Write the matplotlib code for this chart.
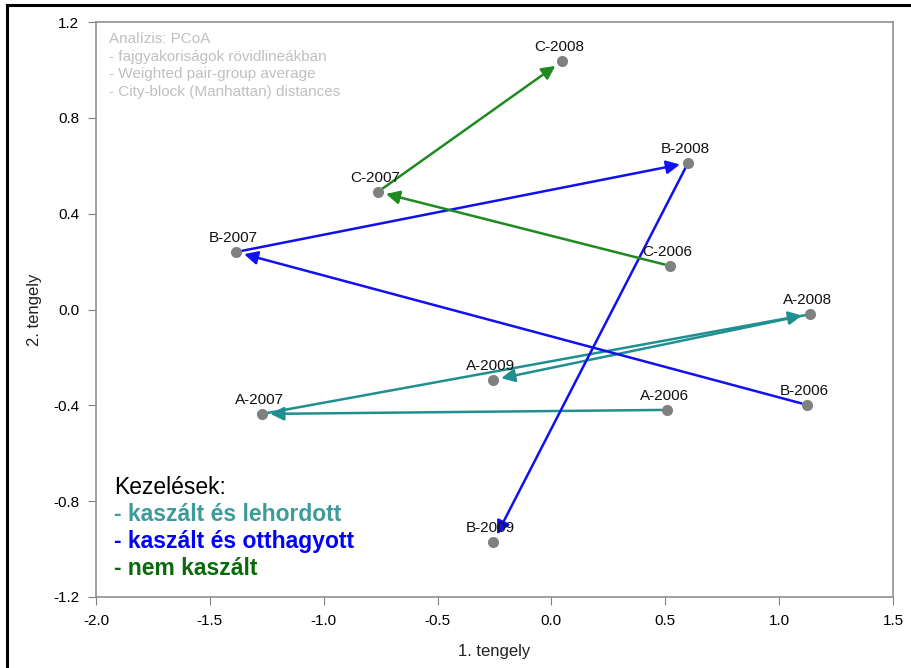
import matplotlib.pyplot as plt
from matplotlib.lines import Line2D

plt.rcParams['font.family'] = ['Liberation Sans', 'DejaVu Sans']

# PCoA koordináták (leolvasva)
labels = ['A-2006', 'A-2007', 'A-2008', 'A-2009',
          'B-2006', 'B-2007', 'B-2008', 'B-2009',
          'C-2006', 'C-2007', 'C-2008']
ax1 = [0.508, -1.271, 1.136, -0.256,
       1.122, -1.385, 0.600, -0.256,
       0.521, -0.762, 0.047]
ax2 = [-0.419, -0.436, -0.019, -0.294,
       -0.398, 0.240, 0.612, -0.970,
       0.182, 0.491, 1.037]

# kezelések útvonalai (időrendben)
paths = {
    'A': ['A-2006', 'A-2007', 'A-2008', 'A-2009'],
    'B': ['B-2006', 'B-2007', 'B-2008', 'B-2009'],
    'C': ['C-2006', 'C-2007', 'C-2008'],
}
line_colors = {'A': '#1f8f8f', 'B': '#1010f0', 'C': '#1f8a1f'}

legend_items = ['- kaszált és lehordott', '- kaszált és otthagyott', '- nem kaszált']
legend_colors = ['#3f9a9a', '#0000ff', '#0a6a0a']

info_lines = ['Analízis: PCoA', '- fajgyakoriságok rövidlineákban',
              '- Weighted pair-group average', '- City-block (Manhattan) distances']

pos = {lab: (x, y) for lab, x, y in zip(labels, ax1, ax2)}

fig = plt.figure(figsize=(9.11, 6.68), dpi=100)
ax = fig.add_axes([96 / 911, 1 - 597 / 668, (893 - 96) / 911, (597 - 22) / 668])

for key, seq in paths.items():
    for a, b in zip(seq[:-1], seq[1:]):
        ax.annotate('', xy=pos[b], xytext=pos[a],
                    arrowprops=dict(arrowstyle='-|>', color=line_colors[key], lw=1.8,
                                    mutation_scale=20, shrinkA=4, shrinkB=6),
                    zorder=2)

ax.plot(ax1, ax2, 'o', color='#808080', markersize=8, zorder=3, markeredgewidth=0)
for lab, x, y in zip(labels, ax1, ax2):
    ax.annotate(lab, (x, y), xytext=(-2, 5), textcoords='offset points',
                ha='center', va='bottom', fontsize=11, color='#111111', zorder=4)

ax.set_xlim(-2.0, 1.5)
ax.set_ylim(-1.2, 1.2)
ax.set_xticks([-2.0, -1.5, -1.0, -0.5, 0.0, 0.5, 1.0, 1.5])
ax.set_yticks([-1.2, -0.8, -0.4, 0.0, 0.4, 0.8, 1.2])
ax.set_xticklabels(['%.1f' % v for v in ax.get_xticks()])
ax.set_yticklabels(['%.1f' % v for v in ax.get_yticks()])
ax.tick_params(direction='out', length=6, color='#808080', labelsize=11, pad=6)
for s in ax.spines.values():
    s.set_color('#909090')
    s.set_linewidth(1.2)
ax.set_xlabel('1. tengely', fontsize=12, labelpad=12, color='#222222')
ax.set_ylabel('2. tengely', fontsize=12, labelpad=8, color='#222222')

ax.text(0.016, 0.982, '\n'.join(info_lines), transform=ax.transAxes, va='top', ha='left',
        fontsize=11, color='#c0c0c0', linespacing=1.32)

ax.text(0.023, 0.191, 'Kezelések:', transform=ax.transAxes, va='center', ha='left',
        fontsize=16.5, color='black')
for i, (txt, col) in enumerate(zip(legend_items, legend_colors)):
    ax.text(0.023, 0.144 - i * 0.047, txt, transform=ax.transAxes, va='center', ha='left',
            fontsize=16.5, color=col, fontweight='bold')

# külső keret
fig.add_artist(Line2D([7 / 911, 1], [1 - 5 / 668, 1 - 5 / 668], color='black', lw=2.2,
                      transform=fig.transFigure))
fig.add_artist(Line2D([7 / 911, 7 / 911], [0, 1 - 5 / 668], color='black', lw=2.2,
                      transform=fig.transFigure))

fig.savefig('out.png', dpi=100)
